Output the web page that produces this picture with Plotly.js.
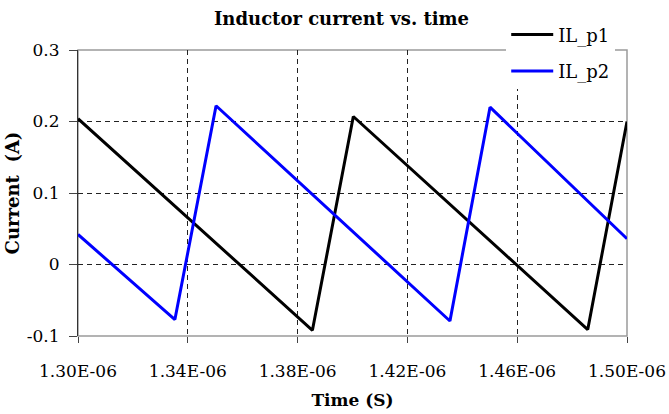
<!DOCTYPE html>
<html>
<head>
<meta charset="utf-8">
<script src="https://cdn.plot.ly/plotly-3.0.1.min.js"></script>
<style>html,body{margin:0;padding:0;background:#fff;}#chart{width:669px;height:414px;}</style>
</head>
<body>
<div id="chart"></div>
<script>
// Data (time in seconds, current in A)
const seriesNames = ["IL_p1", "IL_p2"];
const timeP1 = [1.300e-6, 1.3854e-6, 1.4003e-6, 1.4857e-6, 1.500e-6];
const currentP1 = [0.204, -0.092, 0.207, -0.091, 0.200];
const timeP2 = [1.300e-6, 1.3353e-6, 1.3503e-6, 1.4355e-6, 1.4501e-6, 1.500e-6];
const currentP2 = [0.042, -0.077, 0.222, -0.079, 0.220, 0.036];
const xTickVals = [1.30e-6, 1.34e-6, 1.38e-6, 1.42e-6, 1.46e-6, 1.50e-6];
const xTickText = ["1.30E-06", "1.34E-06", "1.38E-06", "1.42E-06", "1.46E-06", "1.50E-06"];
const yTickVals = [-0.1, 0, 0.1, 0.2, 0.3];
const yTickText = ["-0.1", "0", "0.1", "0.2", "0.3"];

const FONT = "DejaVu Serif, Liberation Serif, serif";

const traces = [
  {x: timeP1, y: currentP1, name: seriesNames[0], mode: "lines", legendgroup: "a",
   line: {color: "#000000", width: 3}},
  {x: timeP2, y: currentP2, name: seriesNames[1], mode: "lines", legendgroup: "b",
   line: {color: "#0000FF", width: 3}}
];

const layout = {
  width: 669, height: 414,
  margin: {l: 78, r: 42, t: 50, b: 78, pad: 0, autoexpand: false},
  paper_bgcolor: "#ffffff", plot_bgcolor: "#ffffff",
  font: {family: FONT, size: 16, color: "#000"},
  title: {text: "<b>Inductor current vs. time</b>", font: {family: FONT, size: 18, color: "#000"},
          x: 0.48, xref: "paper", xanchor: "center", y: 0.955, yanchor: "middle"},
  showlegend: true,
  legend: {x: 0.78, y: 1.1175, xanchor: "left", yanchor: "top", bgcolor: "#ffffff",
           borderwidth: 0, font: {family: FONT, size: 18, color: "#000"},
           traceorder: "grouped", tracegroupgap: 10, itemwidth: 42},
  xaxis: {
    range: [1.30e-6, 1.50e-6], tickmode: "array", tickvals: xTickVals, ticktext: xTickText,
    showgrid: true, gridcolor: "#222", griddash: "5px,4px", gridwidth: 1,
    showline: false, zeroline: false,
    ticks: "outside", ticklen: 6, tickcolor: "#444", tickwidth: 1,
    ticklabelstandoff: 14,
    tickfont: {family: FONT, size: 17, color: "#000"},
    title: {text: "<b>Time (S)</b>", font: {family: FONT, size: 17, color: "#000"}, standoff: 13}
  },
  yaxis: {
    range: [-0.1, 0.3], tickmode: "array", tickvals: yTickVals, ticktext: yTickText,
    showgrid: true, gridcolor: "#222", griddash: "5px,4px", gridwidth: 1,
    showline: true, linecolor: "#333", linewidth: 1, zeroline: false,
    ticks: "outside", ticklen: 8, tickcolor: "#444", tickwidth: 1,
    ticklabelstandoff: 6,
    tickfont: {family: FONT, size: 17, color: "#000"},
    title: {text: "<b>Current  (A)</b>", font: {family: FONT, size: 18, color: "#000"}, standoff: 2}
  },
  shapes: [
    {type: "rect", xref: "paper", yref: "paper", x0: 0, x1: 1, y0: 0, y1: 1,
     line: {color: "#9a9a9a", width: 1.5}, layer: "below"}
  ]
};

Plotly.newPlot("chart", traces, layout, {displayModeBar: false, staticPlot: true});
</script>
</body>
</html>
